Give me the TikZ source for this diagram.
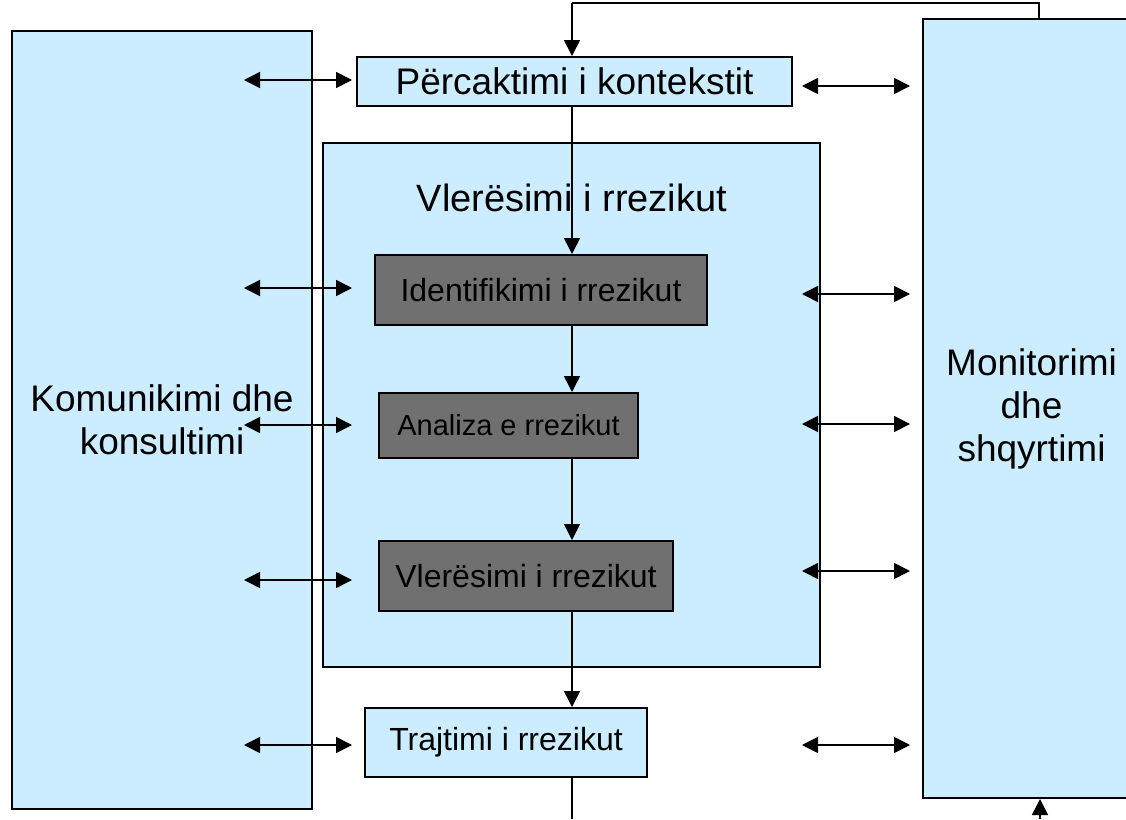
\documentclass[tikz,border=0pt]{standalone}
\usepackage{fontspec}
\setmainfont{Liberation Sans}
\usetikzlibrary{arrows.meta,calc}
\definecolor{lblue}{HTML}{CCECFF}
\definecolor{dgray}{HTML}{707070}
\tikzset{
  lbox/.style={draw=black, line width=2pt, fill=lblue, inner sep=0pt, align=center},
  dbox/.style={draw=black, line width=2pt, fill=dgray, inner sep=0pt, align=center},
  link/.style={line width=1.6pt, draw=black},
  tip/.tip={Triangle[length=16pt,width=16pt]},
  arr/.style={link, -tip},
  dblarr/.style={link, tip-tip},
  big/.style={font=\fontsize{37}{43}\selectfont},
  bigger/.style={font=\fontsize{38}{44}\selectfont},
  mid/.style={font=\fontsize{32}{36}\selectfont},
  small/.style={font=\fontsize{29}{32}\selectfont},
}
\begin{document}
\begin{tikzpicture}[x=1pt,y=-1pt]
\clip (0,0) rectangle (1126,819);
\fill[white] (0,0) rectangle (1126,819);
% big side boxes
\node[lbox, big, minimum width=300pt, minimum height=778pt] (kom) at (162,420) {Komunikimi dhe\\konsultimi};
\node[lbox, big, minimum width=217pt, minimum height=779pt] (mon) at (1031.5,408.5) {Monitorimi\\dhe\\shqyrtimi};
% top box
\node[lbox, big, minimum width=435pt, minimum height=49pt] (ctx) at (574.5,81.5) {Përcaktimi i kontekstit};
% container
\node[lbox, minimum width=497pt, minimum height=524pt] (vler) at (571.5,405) {};
\node[bigger] (vlertitle) at (572,198) {Vlerësimi i rrezikut};
% inner dark boxes
\node[dbox, mid, minimum width=332pt, minimum height=70pt] (ident) at (541,290) {Identifikimi i rrezikut};
\node[dbox, small, minimum width=259pt, minimum height=65pt] (anal) at (508.5,425.5) {Analiza e rrezikut};
\node[dbox, mid, minimum width=294pt, minimum height=70pt] (vlrr) at (526,576) {Vlerësimi i rrezikut};
% treatment
\node[lbox, mid, minimum width=282pt, minimum height=69pt] (traj) at (506,742.5) {Trajtimi i rrezikut};
% chain
\coordinate (cx) at (572,0);
\coordinate (fbR) at (1039,3);
\coordinate (fbL) at (572,3);
\coordinate (bot) at (572,819);
\coordinate (botR) at (1040,819);
\draw[link] (fbR |- mon.north) -- (fbR) -- (fbL);
\draw[arr] (fbL) -- (cx |- ctx.north);
\draw[arr] (cx |- ctx.south) -- (cx |- ident.north);
\draw[arr] (cx |- ident.south) -- (cx |- anal.north);
\draw[arr] (cx |- anal.south) -- (cx |- vlrr.north);
\draw[arr] (cx |- vlrr.south) -- (cx |- traj.north);
\draw[link] (cx |- traj.south) -- (bot);
\draw[arr] (botR) -- (botR |- mon.south);
% left double arrows
\foreach \y [count=\i] in {80,288,425,580,745}{
  \coordinate (la\i) at (244,\y);
  \coordinate (lb\i) at (352,\y);
  \draw[dblarr] (la\i) -- (lb\i);
}
% right double arrows
\foreach \y [count=\i] in {86,294,424,571,745}{
  \coordinate (ra\i) at (802,\y);
  \coordinate (rb\i) at (910,\y);
  \draw[dblarr] (ra\i) -- (rb\i);
}
\end{tikzpicture}
\end{document}
